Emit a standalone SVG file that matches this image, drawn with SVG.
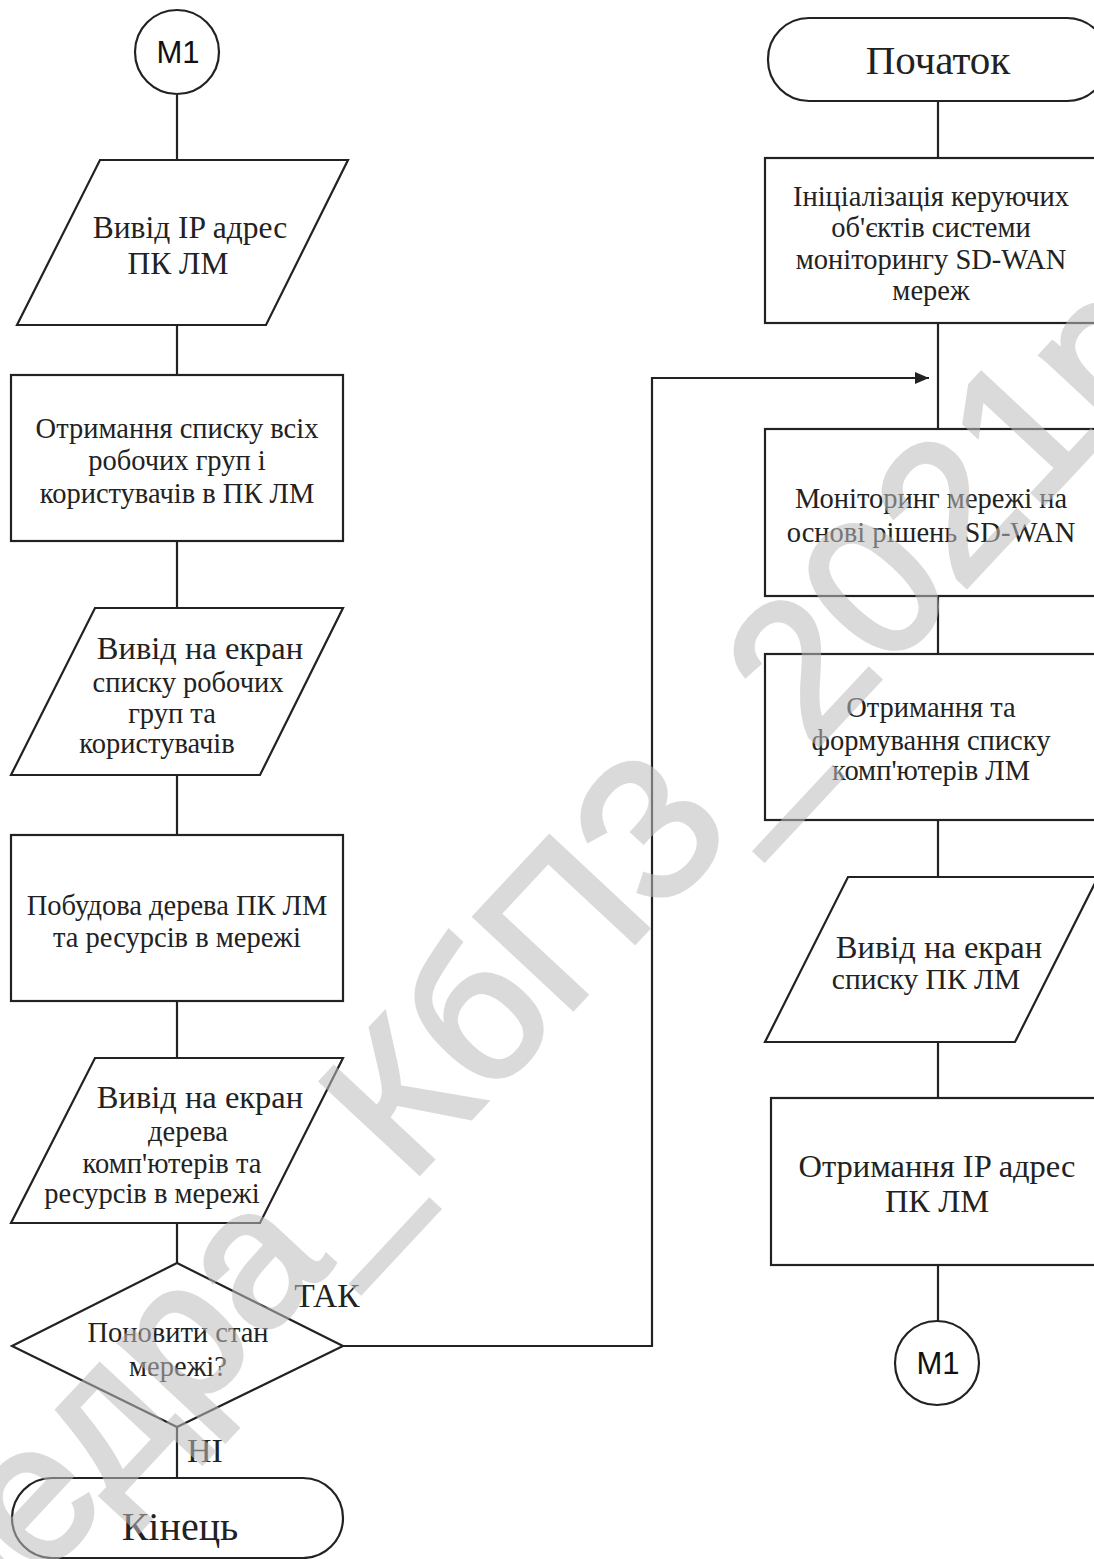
<svg xmlns="http://www.w3.org/2000/svg" width="1094" height="1559" viewBox="0 0 1094 1559">
<defs>
<style>
.s{fill:#fff;stroke:#222;stroke-width:2.2}
.c{fill:none;stroke:#222;stroke-width:2.2}
.t{font-family:"Liberation Serif","Times New Roman",serif;fill:#222;text-anchor:middle}
.m{font-family:"Liberation Sans",Arial,sans-serif;fill:#111;text-anchor:middle;font-size:31px}
.f28{font-size:28.5px}.f29{font-size:29.5px}.f31{font-size:31.5px}.f32{font-size:32.5px}
.wm{font-family:"Liberation Sans",Arial,sans-serif;font-size:195px;fill:#bdbdbd;opacity:0.55;stroke:#bdbdbd;stroke-width:5}
</style>
<marker id="ah" viewBox="0 0 14 12" refX="14" refY="6" markerWidth="14" markerHeight="12" markerUnits="userSpaceOnUse" orient="auto">
<path d="M0,0 L14,6 L0,12 Z" fill="#222"/>
</marker>
</defs>
<rect width="1094" height="1559" fill="#fff"/>
<g id="connectors">
<line class="c" x1="177" y1="95" x2="177" y2="160"/>
<line class="c" x1="177" y1="325" x2="177" y2="375"/>
<line class="c" x1="177" y1="541" x2="177" y2="608"/>
<line class="c" x1="177" y1="775" x2="177" y2="835"/>
<line class="c" x1="177" y1="1001" x2="177" y2="1058"/>
<line class="c" x1="177" y1="1223" x2="177" y2="1263"/>
<line class="c" x1="177" y1="1427" x2="177" y2="1478"/>
<polyline class="c" points="343,1346 652,1346 652,378 929,378" marker-end="url(#ah)"/>
<line class="c" x1="938" y1="101" x2="938" y2="158"/>
<line class="c" x1="938" y1="323" x2="938" y2="429"/>
<line class="c" x1="938" y1="596" x2="938" y2="654"/>
<line class="c" x1="938" y1="820" x2="938" y2="877"/>
<line class="c" x1="938" y1="1042" x2="938" y2="1098"/>
<line class="c" x1="938" y1="1265" x2="938" y2="1321"/>
</g>
<g id="m1-top">
<circle class="s" cx="177" cy="52" r="42"/>
<text class="m" x="178" y="63">M1</text>
</g>
<g id="out-ip">
<polygon class="s" points="100,160 348,160 266,325 17,325"/>
<text class="t f31" x="190" y="238">Вивід IP адрес</text>
<text class="t f31" x="178" y="274">ПК ЛМ</text>
</g>
<g id="get-groups">
<rect class="s" x="11" y="375" width="332" height="166"/>
<text class="t f28" x="177" y="438">Отримання списку всіх</text>
<text class="t f28" x="177" y="470">робочих груп і</text>
<text class="t f28" x="177" y="503">користувачів в ПК ЛМ</text>
</g>
<g id="out-groups">
<polygon class="s" points="95,608 343,608 260,775 11,775"/>
<text class="t f32" x="200" y="659">Вивід на екран</text>
<text class="t f28" x="188" y="692">списку робочих</text>
<text class="t f28" x="172" y="723">груп та</text>
<text class="t f28" x="157" y="753">користувачів</text>
</g>
<g id="build-tree">
<rect class="s" x="11" y="835" width="332" height="166"/>
<text class="t f28" x="177" y="915">Побудова дерева ПК ЛМ</text>
<text class="t f28" x="177" y="947">та ресурсів в мережі</text>
</g>
<g id="out-tree">
<polygon class="s" points="95,1058 343,1058 260,1223 11,1223"/>
<text class="t f32" x="200" y="1108">Вивід на екран</text>
<text class="t f28" x="188" y="1141">дерева</text>
<text class="t f28" x="172" y="1173">комп'ютерів та</text>
<text class="t f28" x="152" y="1203">ресурсів в мережі</text>
</g>
<g id="decision">
<polygon class="s" points="177,1263 343,1346 177,1427 12,1346"/>
<text class="t f28" x="178" y="1342">Поновити стан</text>
<text class="t f28" x="178" y="1376">мережі?</text>
<text class="t" style="font-size:33.5px" x="327" y="1307">ТАК</text>
<text class="t" style="font-size:34px" x="205" y="1462">НІ</text>
</g>
<g id="end">
<rect class="s" x="12" y="1478" width="331" height="80" rx="40" ry="40"/>
<text class="t" style="font-size:40px" x="180" y="1540">Кінець</text>
</g>
<g id="start">
<rect class="s" x="768" y="18" width="340" height="83" rx="41" ry="41"/>
<text class="t" style="font-size:41px" x="938" y="74">Початок</text>
</g>
<g id="init">
<rect class="s" x="765" y="158" width="335" height="165"/>
<text class="t f28" x="931" y="206">Ініціалізація керуючих</text>
<text class="t f28" x="931" y="237">об'єктів системи</text>
<text class="t f28" x="931" y="269">моніторингу SD-WAN</text>
<text class="t f28" x="931" y="300">мереж</text>
</g>
<g id="monitor">
<rect class="s" x="765" y="429" width="335" height="167"/>
<text class="t f28" x="931" y="508">Моніторинг мережі на</text>
<text class="t f28" x="931" y="542">основі рішень SD-WAN</text>
</g>
<g id="get-list">
<rect class="s" x="765" y="654" width="335" height="166"/>
<text class="t f28" x="931" y="717">Отримання та</text>
<text class="t f28" x="931" y="750">формування списку</text>
<text class="t f28" x="931" y="780">комп'ютерів ЛМ</text>
</g>
<g id="out-list">
<polygon class="s" points="848,877 1098,877 1015,1042 765,1042"/>
<text class="t f32" x="939" y="958">Вивід на екран</text>
<text class="t f29" x="926" y="989">списку ПК  ЛМ</text>
</g>
<g id="get-ip">
<rect class="s" x="771" y="1098" width="334" height="167"/>
<text class="t f32" x="937" y="1177">Отримання IP адрес</text>
<text class="t f32" x="937" y="1212">ПК ЛМ</text>
</g>
<g id="m1-bottom">
<circle class="s" cx="937" cy="1363" r="42"/>
<text class="m" x="938" y="1374">M1</text>
</g>
<text class="wm" x="0" y="0" text-anchor="middle" dominant-baseline="central" transform="translate(430,1062) rotate(-47)">Кафедра_КбПЗ_2021р</text>
</svg>
